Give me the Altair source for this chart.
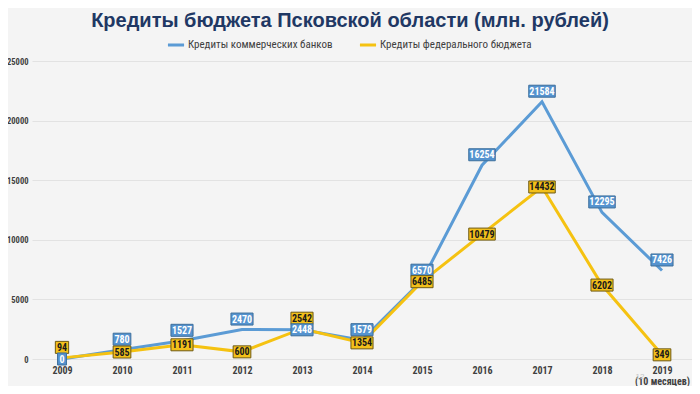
import altair as alt
import pandas as pd

# ---- data ----
years = ["2009", "2010", "2011", "2012", "2013", "2014", "2015", "2016", "2017", "2018", "2019"]
commercial = [0, 780, 1527, 2470, 2448, 1579, 6570, 16254, 21584, 12295, 7426]
federal = [94, 585, 1191, 600, 2542, 1354, 6485, 10479, 14432, 6202, 349]
series_names = ["Кредиты коммерческих банков", "Кредиты федерального бюджета"]
y_ticks = [0, 5000, 10000, 15000, 20000, 25000]
last_tick_extra = "(10 месяцев)"
title_text = "Кредиты бюджета Псковской области (млн. рублей)"
slide_number = "12"

# ---- styles ----
LINE_COLORS = ["#5b9bd5", "#f5c211"]
BOX_FILL = {series_names[0]: "#5593cf", series_names[1]: "#f3c01a"}
BOX_STROKE = {series_names[0]: "#3d6f9c", series_names[1]: "#6e5a14"}
TEXT_COL = {series_names[0]: "#ffffff", series_names[1]: "#1a1a1a"}
NARROW = "Liberation Sans Narrow, Roboto Condensed, Arial Narrow, Liberation Sans, sans-serif"
BOX_H = 12.0

rows = []
for i, yr in enumerate(years):
    pair = {series_names[0]: commercial[i], series_names[1]: federal[i]}
    for s, v in pair.items():
        other = [vv for ss, vv in pair.items() if ss != s][0]
        lab = str(v)
        w = 4.4 * len(lab) + 4.5
        r = BOX_H / w
        rows.append({
            "year": yr, "series": s, "value": v, "label": lab,
            "top": v > other,
            "shape": f"M-1,{-r:.4f}L1,{-r:.4f}L1,{r:.4f}L-1,{r:.4f}Z",
            "size": w * w,
            "bfill": BOX_FILL[s], "bstroke": BOX_STROKE[s], "tcol": TEXT_COL[s],
        })
df = pd.DataFrame(rows)

label_expr = f"datum.value == '{years[-1]}' ? ['{years[-1]}', '{last_tick_extra}'] : datum.label"

x_enc = alt.X("year:N", sort=years, scale=alt.Scale(type="point", padding=0.5),
              axis=alt.Axis(title=None, labelAngle=0, labelExpr=label_expr, ticks=False,
                            domain=False, labelPadding=6, labelFont=NARROW, labelFontSize=10,
                            labelFontWeight="bold", labelColor="#404040", labelLineHeight=11))
y_enc = alt.Y("value:Q", scale=alt.Scale(domain=[0, 25000], nice=False),
              axis=alt.Axis(title=None, values=y_ticks, format="d", ticks=False, domain=False,
                            labelPadding=4, labelFont=NARROW, labelFontSize=8.5,
                            labelFontWeight="bold", labelColor="#404040",
                            grid=True, gridColor="#e2e2e2", gridWidth=1))

base = alt.Chart(df)

line = base.mark_line(strokeWidth=3).encode(
    x=x_enc, y=y_enc,
    color=alt.Color("series:N", sort=series_names,
                    scale=alt.Scale(domain=series_names, range=LINE_COLORS),
                    legend=alt.Legend(title=None, orient="none", legendX=134, legendY=-26,
                                      direction="horizontal", symbolType="stroke",
                                      symbolStrokeWidth=3, symbolSize=260,
                                      labelFont=NARROW, labelFontSize=11,
                                      labelColor="#404040", columnPadding=20,
                                      labelOffset=2)),
)

layers = [line]
for is_top, off in [(True, -10.5), (False, 0)]:
    sub = base.transform_filter(f"datum.top == {'true' if is_top else 'false'}")
    boxes = sub.mark_point(filled=True, opacity=1, strokeWidth=1, yOffset=off).encode(
        x=alt.X("year:N", sort=years), y="value:Q",
        shape=alt.Shape("shape:N", scale=None),
        size=alt.Size("size:Q", scale=None),
        fill=alt.Fill("bfill:N", scale=None),
        stroke=alt.Stroke("bstroke:N", scale=None),
    )
    texts = sub.mark_text(font=NARROW, fontSize=10, fontWeight="bold", baseline="middle",
                          yOffset=off + 0.5).encode(
        x=alt.X("year:N", sort=years), y="value:Q",
        text="label:N",
        fill=alt.Fill("tcol:N", scale=None),
    )
    layers += [boxes, texts]

slide = alt.Chart(pd.DataFrame({"t": [slide_number]})).mark_text(
    fontSize=8, color="#c4c4c4", font="Liberation Sans").encode(
    text="t:N", x=alt.value(608), y=alt.value(316))
layers.append(slide)

chart = alt.layer(*layers).properties(
    width=660, height=298,
    title=alt.TitleParams(title_text, fontSize=20, fontWeight="bold", color="#1f3864",
                          font="Liberation Sans", anchor="middle", dx=-12, offset=4),
    padding={"left": 24, "top": 53, "right": 0, "bottom": 27},
    autosize=alt.AutoSizeParams(type="none"),
    background="#f4f4f4",
).configure_view(stroke=None)

chart.save("out.html", embed_options={"renderer": "svg", "actions": False})
